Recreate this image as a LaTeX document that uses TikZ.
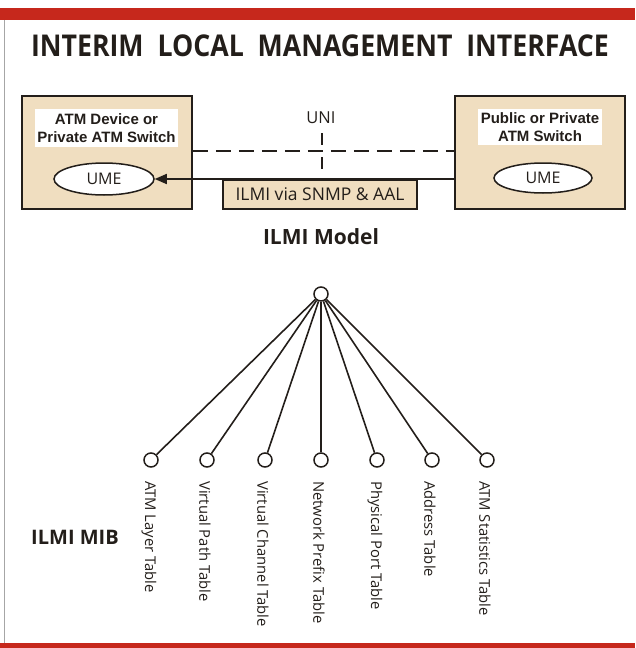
\documentclass[tikz,border=0pt]{standalone}
\usepackage{fontspec}
\setmainfont{Open Sans}
\newfontfamily\labfont{Liberation Sans}
\usetikzlibrary{arrows.meta,shapes.geometric}
\definecolor{barred}{RGB}{198,40,28}
\definecolor{tan}{RGB}{240,222,192}
\definecolor{ink}{RGB}{35,30,26}
\tikzset{
  devbox/.style={draw=ink, line width=1.6pt, fill=tan, inner sep=0pt},
  namelab/.style={fill=white, inner sep=0pt, align=center,
    font=\labfont\bfseries\fontsize{15}{18}\selectfont, text=ink},
  ume/.style={ellipse, draw=ink, line width=1.5pt, fill=white, inner sep=0pt,
    font=\fontsize{16}{19}\selectfont, text=ink},
  link/.style={draw=ink, line width=1.6pt},
  knot/.style={circle, draw=ink, line width=1.5pt, fill=white,
    minimum size=14pt, inner sep=0pt},
  leaflab/.style={rotate=-90, anchor=west, inner sep=0pt,
    font=\fontsize{14.8}{17}\selectfont, text=ink},
  heading/.style={font=\bfseries\fontsize{21}{25}\selectfont, text=ink}
}
\begin{document}
\begin{tikzpicture}[x=1pt, y=-1pt]
\useasboundingbox (0,0) rectangle (635,648);
% frame: red bars and left rule
\fill[barred] (0,8) rectangle (635,20);
\fill[barred] (0,643) rectangle (635,648);
\draw[gray!70, line width=0.8pt] (4,20) -- (4,643);

% title
\node[font=\bfseries\fontsize{30}{36}\selectfont, text=ink] (title) at (320,46)
  {\scalebox{0.89}[1]{INTERIM\ \ LOCAL\ \ MANAGEMENT\ \ INTERFACE}};

% the two devices
\node[devbox, minimum width=170pt, minimum height=113pt] (left) at (107,152.5) {};
\node[devbox, minimum width=170pt, minimum height=113pt] (right) at (540,152.5) {};
\node[namelab, minimum width=143pt, minimum height=38pt] (leftname) at (106.5,128)
  {ATM Device or\\Private ATM Switch};
\node[namelab, minimum width=124pt, minimum height=36pt] (rightname) at (540,127)
  {Public or Private\\ATM Switch};
\node[ume, minimum width=100pt, minimum height=32pt] (umeL) at (104,179) {UME};
\node[ume, minimum width=98pt, minimum height=30pt] (umeR) at (543,178) {UME};

% UNI link
\draw[link, dash pattern=on 15pt off 8pt]
  ([yshift=1.5pt]left.east) -- ([yshift=1.5pt]right.west);
\node[font=\fontsize{16.5}{19}\selectfont, text=ink] (uni) at (321,118) {UNI};
\coordinate (uniTop) at (322,133);
\coordinate (uniBot) at (322,170);
\draw[link, dash pattern=on 12pt off 12pt] (uniTop) -- (uniBot);

% ILMI channel
\node[devbox, minimum width=194pt, minimum height=29pt,
  font=\fontsize{17.5}{20}\selectfont, text=ink] (chan) at (320,194.5)
  {ILMI via SNMP \& AAL};
\draw[link, -{Triangle[length=12pt, width=10pt]}] (right.west |- umeL.east) -- (umeL.east);

\node[heading] (model) at (321,237) {ILMI Model};

% MIB tree
\node[knot] (root) at (321,294) {};
\node[knot] (l1) at (151,460) {};
\node[knot] (l2) at (207,460) {};
\node[knot] (l3) at (265,460) {};
\node[knot] (l4) at (321,460) {};
\node[knot] (l5) at (377,460) {};
\node[knot] (l6) at (432,460) {};
\node[knot] (l7) at (487,460) {};
\foreach \n in {l1,l2,l3,l4,l5,l6,l7}
  \draw[link] (root) -- (\n);

\node[leaflab] (t1) at (149,481) {ATM Layer Table};
\node[leaflab] (t2) at (205,481) {Virtual Path Table};
\node[leaflab] (t3) at (263,481) {Virtual Channel Table};
\node[leaflab] (t4) at (319,481) {Network Prefix Table};
\node[leaflab] (t5) at (375,481) {Physical Port Table};
\node[leaflab] (t6) at (430,481) {Address Table};
\node[leaflab] (t7) at (485,481) {ATM Statistics Table};

\node[heading, font=\bfseries\fontsize{20}{24}\selectfont] (mib) at (75,537) {ILMI MIB};
\end{tikzpicture}
\end{document}
